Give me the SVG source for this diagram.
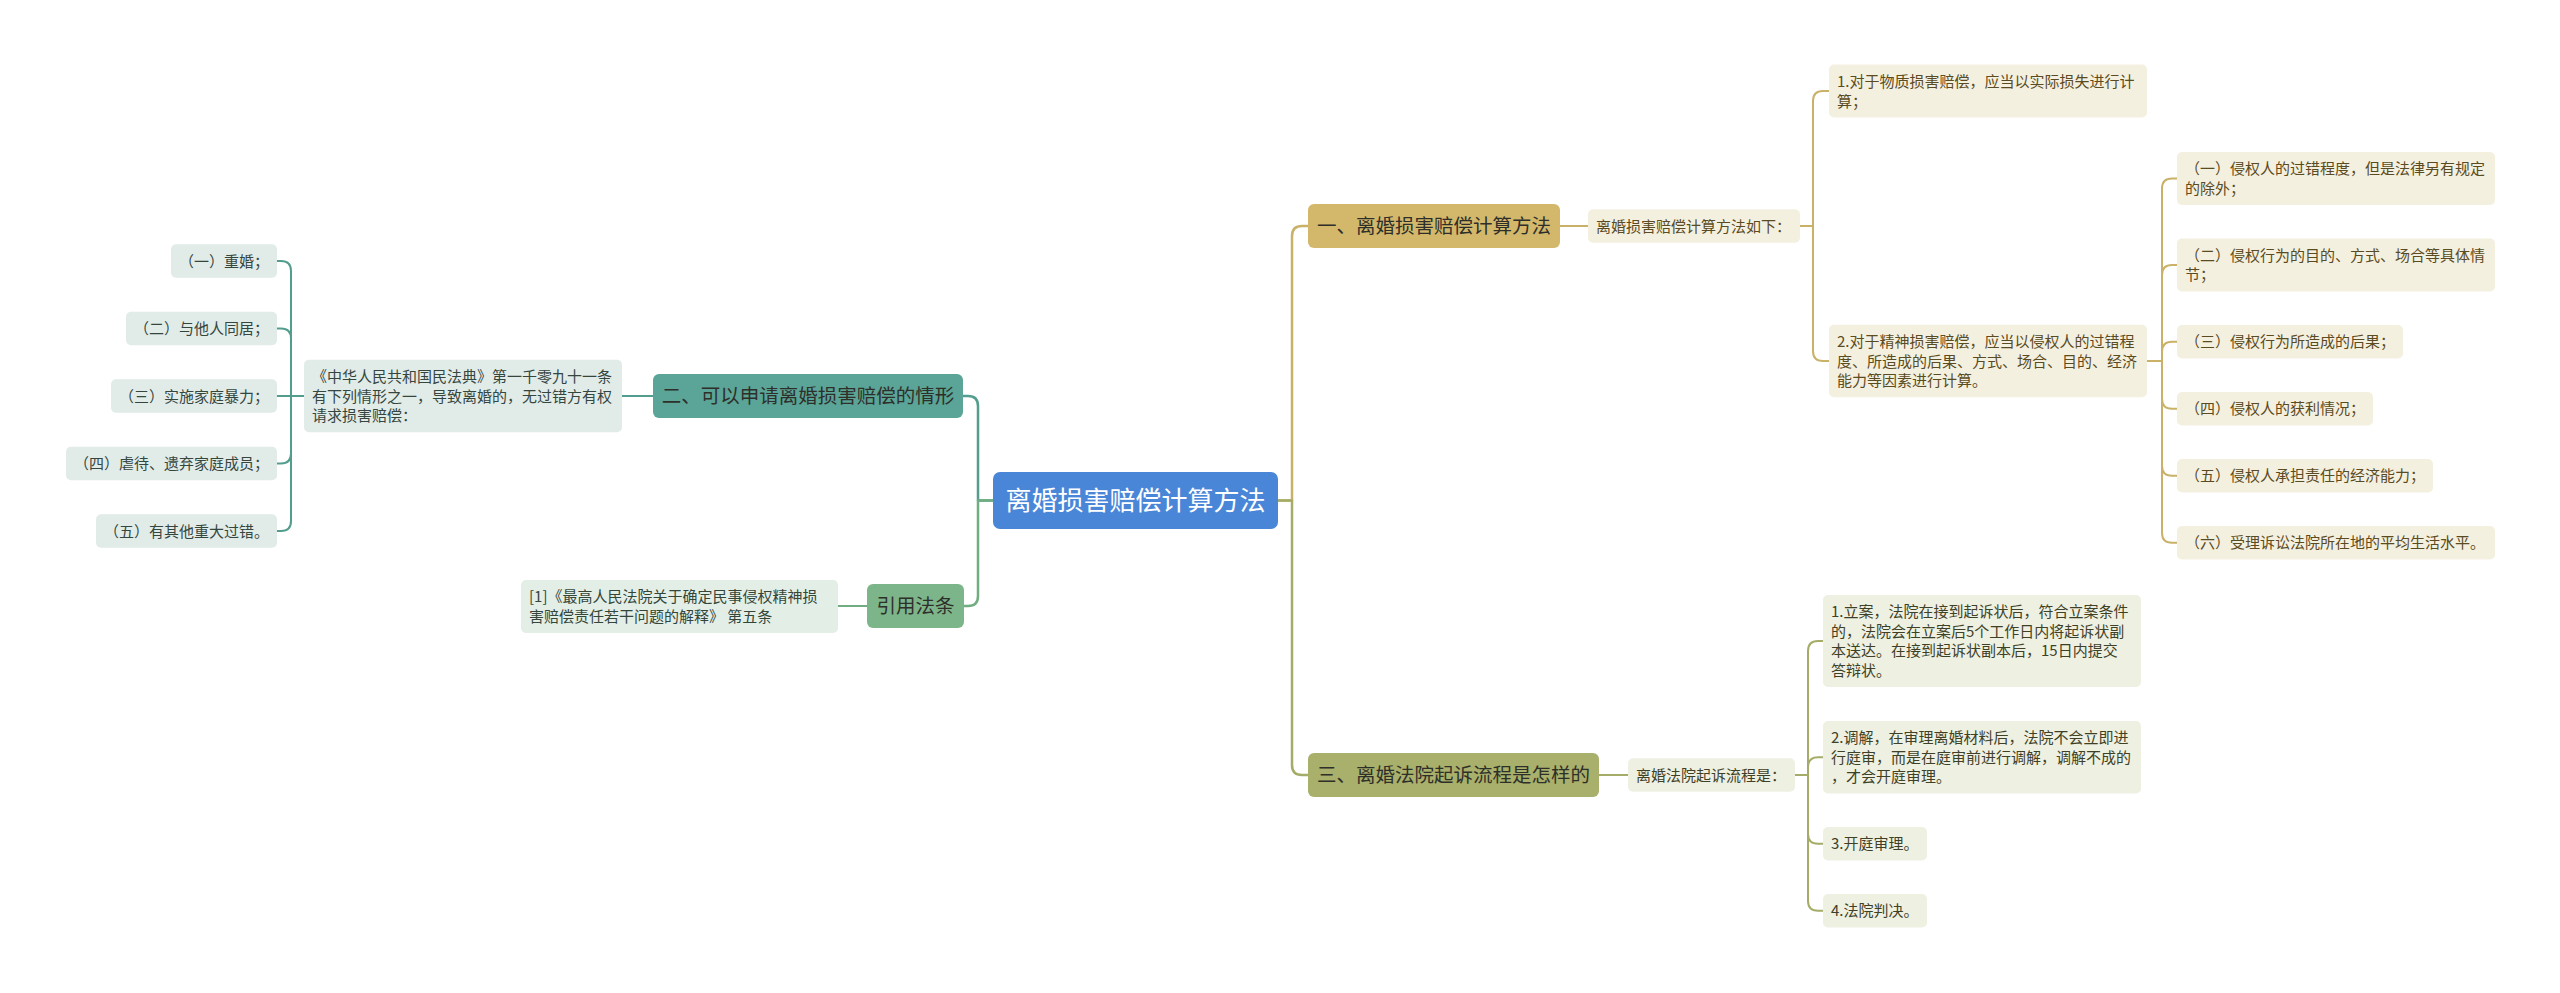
<svg xmlns="http://www.w3.org/2000/svg" width="2560" height="993" viewBox="0 0 2560 993">
<style>
text{font-family:"Noto Sans CJK SC","Noto Sans",sans-serif;}
.root-t{font-size:26px;fill:#ffffff;text-anchor:middle;}
.br-t{font-size:19.5px;fill:#2f2f2a;text-anchor:middle;}
.lf{font-size:15px;}
.c{fill:none;stroke-width:2;stroke-linecap:round;stroke-linejoin:round;}
.cg{stroke:#c9b167;} .co{stroke:#a4ac67;} .ct{stroke:#529d8e;} .cn{stroke:#72ad81;}
.cr{stroke-width:2.5;}
.lg{fill:#f4f0e0;} .lo{fill:#eef0e2;} .lt{fill:#e1ece9;} .ln{fill:#e3eee7;}
.tg{fill:#5a4b22;} .to{fill:#3e4126;} .tt{fill:#35463f;} .tn{fill:#33463a;}
</style>
<g id="connectors">
<path class="c cr cg" d="M1278,500.5 H1292 V236 Q1292,226 1302,226 H1308"/>
<path class="c cr co" d="M1278,500.5 H1292 V765 Q1292,775 1302,775 H1308"/>
<path class="c cr ct" d="M993,500.5 H978 V406 Q978,396 968,396 H963"/>
<path class="c cr cn" d="M993,500.5 H978 V596 Q978,606 968,606 H964"/>
<path class="c cg" d="M1560,226 H1588"/>
<path class="c cg" d="M1800,226 H1813 V101 Q1813,91 1823,91 H1829"/>
<path class="c cg" d="M1800,226 H1813 V351 Q1813,361 1823,361 H1829"/>
<path class="c cg" d="M2147,361 H2162 V188.5 Q2162,178.5 2172,178.5 H2177"/>
<path class="c cg" d="M2147,361 H2162 V275 Q2162,265 2172,265 H2177"/>
<path class="c cg" d="M2147,361 H2162 V351.75 Q2162,341.75 2172,341.75 H2177"/>
<path class="c cg" d="M2147,361 H2162 V398.75 Q2162,408.75 2172,408.75 H2177"/>
<path class="c cg" d="M2147,361 H2162 V465.75 Q2162,475.75 2172,475.75 H2177"/>
<path class="c cg" d="M2147,361 H2162 V532.75 Q2162,542.75 2172,542.75 H2177"/>
<path class="c co" d="M1599,775 H1628"/>
<path class="c co" d="M1795,775 H1808 V651 Q1808,641 1818,641 H1823"/>
<path class="c co" d="M1795,775 H1808 V767.25 Q1808,757.25 1818,757.25 H1823"/>
<path class="c co" d="M1795,775 H1808 V833.75 Q1808,843.75 1818,843.75 H1823"/>
<path class="c co" d="M1795,775 H1808 V900.75 Q1808,910.75 1818,910.75 H1823"/>
<path class="c ct" d="M653,396 H622"/>
<path class="c ct" d="M304,396 H291 V271 Q291,261 281,261 H277"/>
<path class="c ct" d="M304,396 H291 V338.5 Q291,328.5 281,328.5 H277"/>
<path class="c ct" d="M304,396 H277"/>
<path class="c ct" d="M304,396 H291 V453.5 Q291,463.5 281,463.5 H277"/>
<path class="c ct" d="M304,396 H291 V521 Q291,531 281,531 H277"/>
<path class="c cn" d="M867,606 H838"/>
</g>
<g id="root">
<rect x="993" y="472" width="285" height="57" rx="7" fill="#4a86d8"/>
<text class="root-t" x="1135.5" y="510">离婚损害赔偿计算方法</text>
</g>
<g id="branch1">
<rect x="1308" y="204" width="252" height="44" rx="6" fill="#d3b86b"/>
<text class="br-t" x="1434" y="233.4">一、离婚损害赔偿计算方法</text>
</g>
<g id="b1-sub">
<rect class="lg" x="1588" y="209.25" width="212" height="33.5" rx="5"/>
<text class="lf tg" x="1596" y="231.7">离婚损害赔偿计算方法如下：</text>
</g>
<g id="b1-c1">
<rect class="lg" x="1829" y="64.5" width="318" height="53" rx="5"/>
<text class="lf tg"><tspan x="1837" y="87">1.对于物质损害赔偿，应当以实际损失进行计</tspan><tspan x="1837" y="106.5">算；</tspan></text>
</g>
<g id="b1-c2">
<rect class="lg" x="1829" y="324.75" width="318" height="72.5" rx="5"/>
<text class="lf tg"><tspan x="1837" y="347.2">2.对于精神损害赔偿，应当以侵权人的过错程</tspan><tspan x="1837" y="366.7">度、所造成的后果、方式、场合、目的、经济</tspan><tspan x="1837" y="386.2">能力等因素进行计算。</tspan></text>
</g>
<g id="b1-c2-1">
<rect class="lg" x="2177" y="152" width="318" height="53" rx="5"/>
<text class="lf tg"><tspan x="2185" y="174.45">（一）侵权人的过错程度，但是法律另有规定</tspan><tspan x="2185" y="193.95">的除外；</tspan></text>
</g>
<g id="b1-c2-2">
<rect class="lg" x="2177" y="238.5" width="318" height="53" rx="5"/>
<text class="lf tg"><tspan x="2185" y="260.95">（二）侵权行为的目的、方式、场合等具体情</tspan><tspan x="2185" y="280.45">节；</tspan></text>
</g>
<g id="b1-c2-3">
<rect class="lg" x="2177" y="325" width="226" height="33.5" rx="5"/>
<text class="lf tg" x="2185" y="347.45">（三）侵权行为所造成的后果；</text>
</g>
<g id="b1-c2-4">
<rect class="lg" x="2177" y="392" width="196" height="33.5" rx="5"/>
<text class="lf tg" x="2185" y="414.45">（四）侵权人的获利情况；</text>
</g>
<g id="b1-c2-5">
<rect class="lg" x="2177" y="459" width="256" height="33.5" rx="5"/>
<text class="lf tg" x="2185" y="481.45">（五）侵权人承担责任的经济能力；</text>
</g>
<g id="b1-c2-6">
<rect class="lg" x="2177" y="526" width="318" height="33.5" rx="5"/>
<text class="lf tg" x="2185" y="548.45">（六）受理诉讼法院所在地的平均生活水平。</text>
</g>
<g id="branch3">
<rect x="1308" y="753" width="291" height="44" rx="6" fill="#a9b06b"/>
<text class="br-t" x="1453.5" y="782.4">三、离婚法院起诉流程是怎样的</text>
</g>
<g id="b3-sub">
<rect class="lo" x="1628" y="758.25" width="167" height="33.5" rx="5"/>
<text class="lf to" x="1636" y="780.7">离婚法院起诉流程是：</text>
</g>
<g id="b3-c1">
<rect class="lo" x="1823" y="595" width="318" height="92" rx="5"/>
<text class="lf to"><tspan x="1831" y="617.45">1.立案，法院在接到起诉状后，符合立案条件</tspan><tspan x="1831" y="636.95">的，法院会在立案后5个工作日内将起诉状副</tspan><tspan x="1831" y="656.45">本送达。在接到起诉状副本后，15日内提交</tspan><tspan x="1831" y="675.95">答辩状。</tspan></text>
</g>
<g id="b3-c2">
<rect class="lo" x="1823" y="721" width="318" height="72.5" rx="5"/>
<text class="lf to"><tspan x="1831" y="743.45">2.调解，在审理离婚材料后，法院不会立即进</tspan><tspan x="1831" y="762.95">行庭审，而是在庭审前进行调解，调解不成的</tspan><tspan x="1831" y="782.45">，才会开庭审理。</tspan></text>
</g>
<g id="b3-c3">
<rect class="lo" x="1823" y="827" width="104" height="33.5" rx="5"/>
<text class="lf to" x="1831" y="849.45">3.开庭审理。</text>
</g>
<g id="b3-c4">
<rect class="lo" x="1823" y="894" width="104" height="33.5" rx="5"/>
<text class="lf to" x="1831" y="916.45">4.法院判决。</text>
</g>
<g id="branch2">
<rect x="653" y="374" width="310" height="44" rx="6" fill="#5aa597"/>
<text class="br-t" x="808" y="403.4">二、可以申请离婚损害赔偿的情形</text>
</g>
<g id="b2-sub">
<rect class="lt" x="304" y="359.75" width="318" height="72.5" rx="5"/>
<text class="lf tt"><tspan x="312" y="382.2">《中华人民共和国民法典》第一千零九十一条</tspan><tspan x="312" y="401.7">有下列情形之一，导致离婚的，无过错方有权</tspan><tspan x="312" y="421.2">请求损害赔偿：</tspan></text>
</g>
<g id="b2-c1">
<rect class="lt" x="171" y="244.25" width="106" height="33.5" rx="5"/>
<text class="lf tt" x="179" y="266.7">（一）重婚；</text>
</g>
<g id="b2-c2">
<rect class="lt" x="126" y="311.75" width="151" height="33.5" rx="5"/>
<text class="lf tt" x="134" y="334.2">（二）与他人同居；</text>
</g>
<g id="b2-c3">
<rect class="lt" x="111" y="379.25" width="166" height="33.5" rx="5"/>
<text class="lf tt" x="119" y="401.7">（三）实施家庭暴力；</text>
</g>
<g id="b2-c4">
<rect class="lt" x="66" y="446.75" width="211" height="33.5" rx="5"/>
<text class="lf tt" x="74" y="469.2">（四）虐待、遗弃家庭成员；</text>
</g>
<g id="b2-c5">
<rect class="lt" x="96" y="514.25" width="181" height="33.5" rx="5"/>
<text class="lf tt" x="104" y="536.7">（五）有其他重大过错。</text>
</g>
<g id="branch-cite">
<rect x="867" y="584" width="97" height="44" rx="6" fill="#7db58a"/>
<text class="br-t" x="915.5" y="613.4">引用法条</text>
</g>
<g id="cite-c1">
<rect class="ln" x="521" y="580" width="317" height="53" rx="5"/>
<text class="lf tn"><tspan x="529" y="602.45">[1]《最高人民法院关于确定民事侵权精神损</tspan><tspan x="529" y="621.95">害赔偿责任若干问题的解释》 第五条</tspan></text>
</g>
</svg>
